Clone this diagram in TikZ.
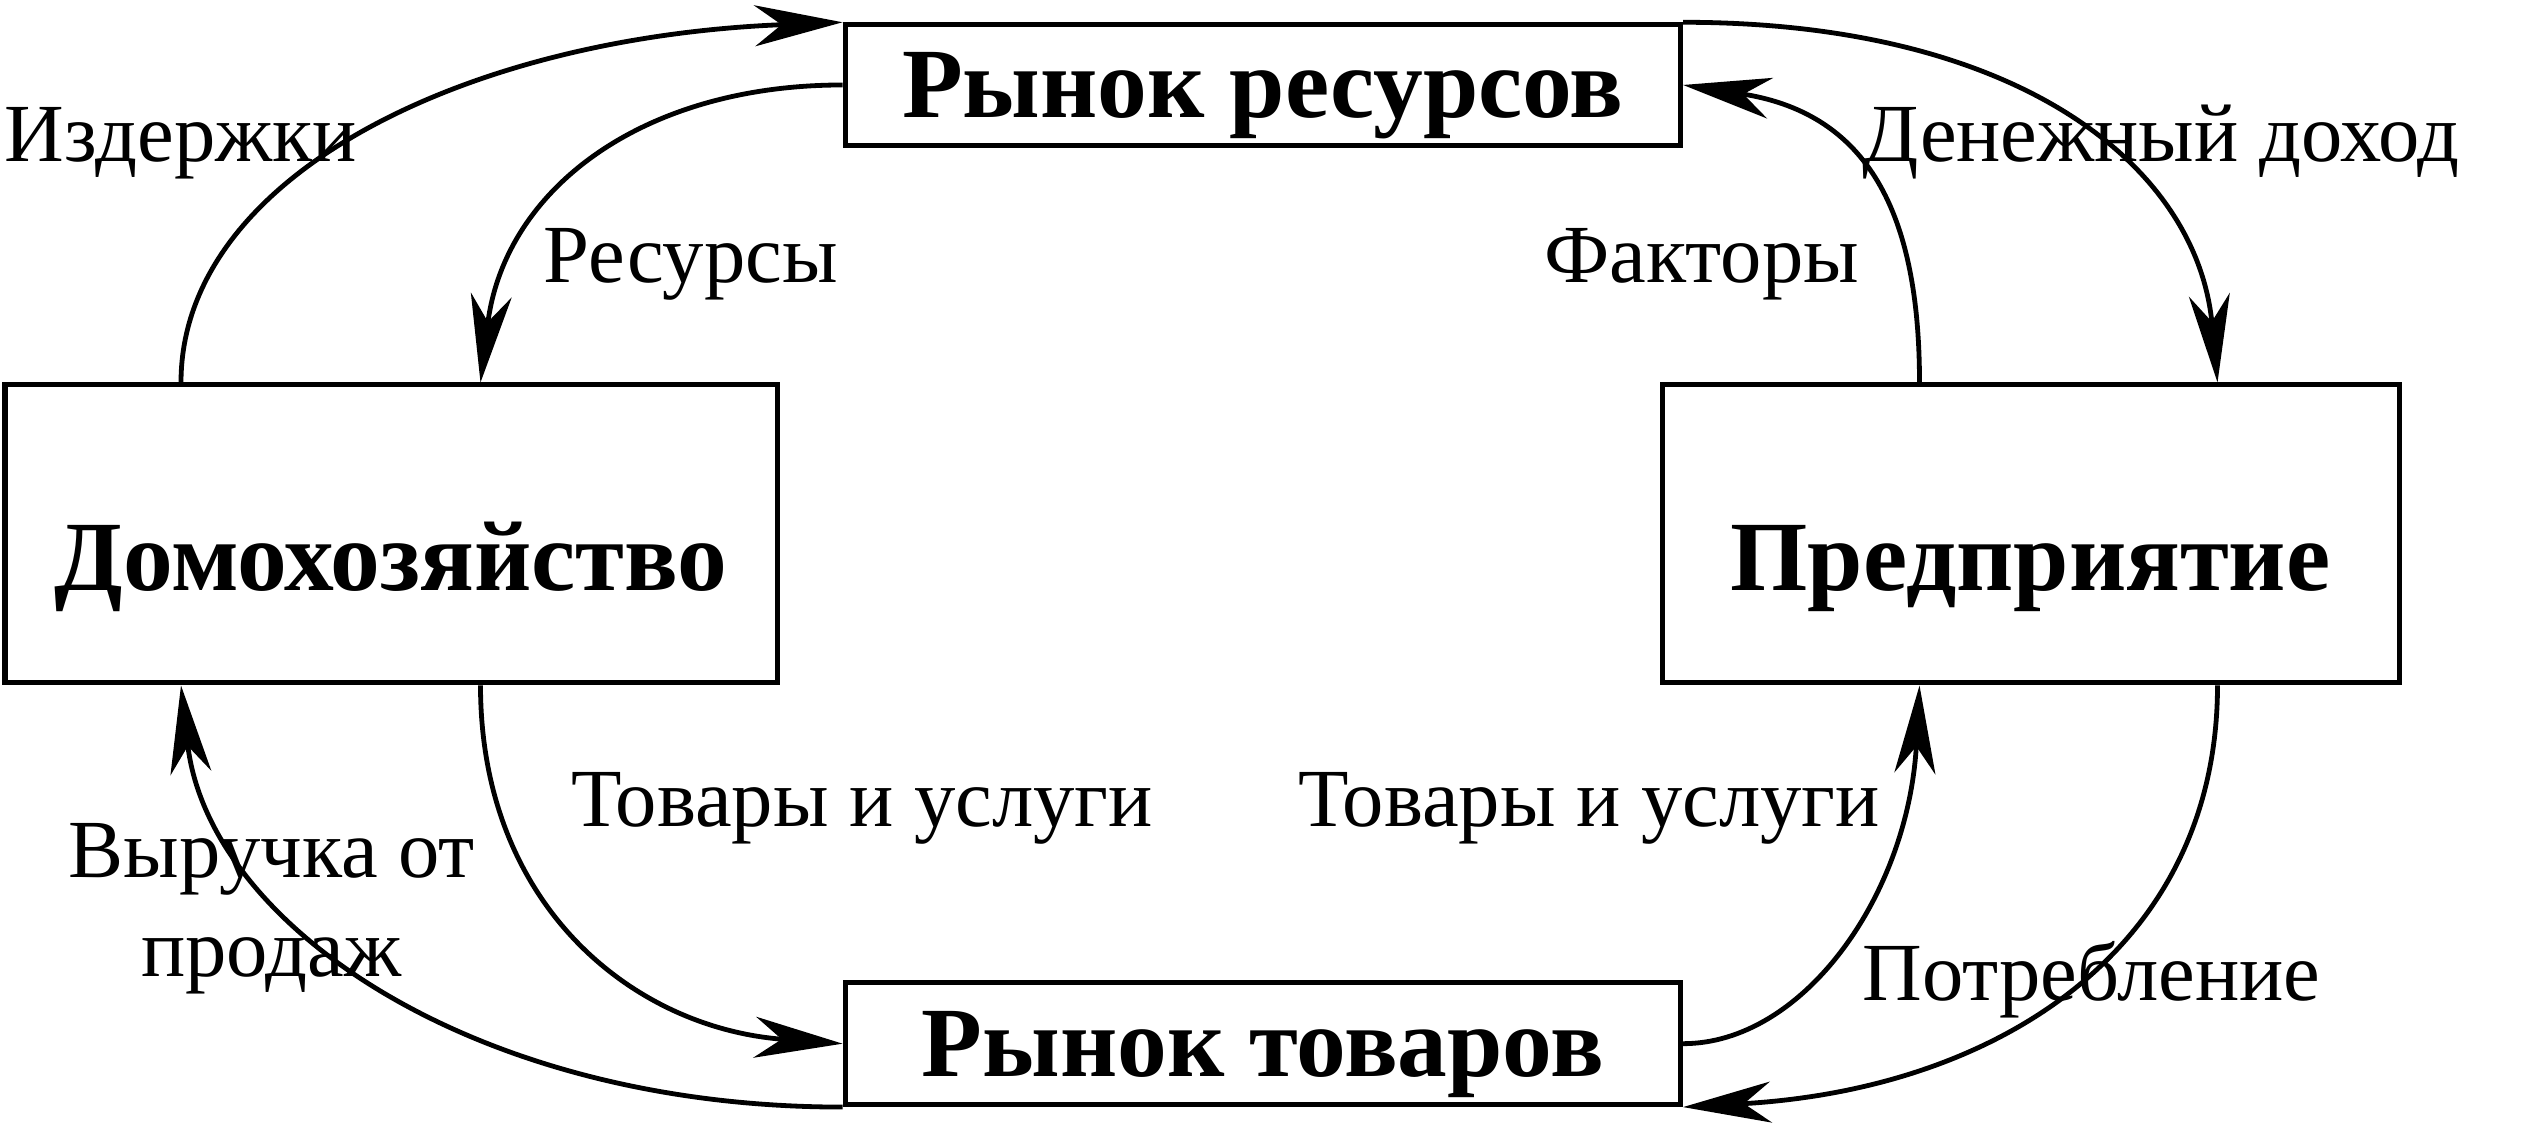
\documentclass[tikz,border=0pt]{standalone}
\usepackage{fontspec}
\setmainfont{Liberation Serif}
\usetikzlibrary{arrows.meta}
\begin{document}
\begin{tikzpicture}[
  box/.style={draw, line width=0.05cm, inner sep=0pt, font=\fontsize{28.3}{34}\selectfont\bfseries, text depth=0pt},
  lbl/.style={inner sep=0pt, anchor=base west, font=\fontsize{23.5}{28}\selectfont},
  arr/.style={line width=0.048cm, -{Stealth[length=0.88cm, width=0.41cm, inset=0.27cm]}}
]
\useasboundingbox[fill=white] (0,0) rectangle (25.25,11.44);
% boxes
\node[box, minimum width=8.355cm, minimum height=1.204cm, text height=0.66cm] (rr) at (12.628,10.59) {Рынок ресурсов};
\node[box, minimum width=8.355cm, minimum height=1.218cm, text height=0.66cm] (rt) at (12.628,1.003) {Рынок товаров};
\node[box, minimum width=7.72cm, minimum height=2.98cm, text height=1.14cm] (hh) at (3.91,6.10) {Домохозяйство};
\node[box, minimum width=7.37cm, minimum height=2.98cm, text height=1.14cm] (ent) at (20.305,6.10) {Предприятие};
% attachment points
\coordinate (hhA) at ([xshift=1.785cm]hh.north west);
\coordinate (hhB) at ([xshift=4.78cm]hh.north west);
\coordinate (hhC) at ([xshift=1.785cm]hh.south west);
\coordinate (hhD) at ([xshift=4.78cm]hh.south west);
\coordinate (enA) at ([xshift=2.6cm]ent.north west);
\coordinate (enB) at ([xshift=5.58cm]ent.north west);
\coordinate (enC) at ([xshift=2.6cm]ent.south west);
\coordinate (enD) at ([xshift=5.58cm]ent.south west);
% connectors
\draw[arr] (hhA) .. controls +(0,2.05) and +(-3.8,-0.15) .. (rr.north west);
\draw[arr] (rr.west) .. controls +(-2.0,0) and +(0.238,1.935) .. (hhB);
\draw[arr] (rr.north east) .. controls +(3.4,0) and +(-0.2,2.14) .. (enB);
\draw[arr] (enA) .. controls +(0,1.8) and +(1.78,-0.27) .. (rr.east);
\draw[arr] (hhD) .. controls +(0,-2.2) and +(-2.094,0.153) .. (rt.west);
\draw[arr] (rt.south west) .. controls +(-3.7,0) and +(0.27,-2.39) .. (hhC);
\draw[arr] (rt.east) .. controls +(1.2,0) and +(-0.11,-2.1) .. (enC);
\draw[arr] (enD) .. controls +(0,-2.6) and +(3.19,0.18) .. (rt.south east);
% labels
\node[lbl] (l1) at (0.04,9.82) {Издержки};
\node[lbl] (l2) at (5.43,8.61) {Ресурсы};
\node[lbl] (l3) at (18.62,9.82) {Денежный доход};
\node[lbl] (l4) at (15.44,8.61) {Факторы};
\node[lbl] (l5) at (5.71,3.17) {Товары и услуги};
\node[lbl] (l6) at (12.98,3.17) {Товары и услуги};
\node[lbl, anchor=base] (l7) at (2.715,2.66) {Выручка от};
\node[lbl, anchor=base] (l8) at (2.715,1.67) {продаж};
\node[lbl] (l9) at (18.62,1.43) {Потребление};
\end{tikzpicture}
\end{document}
